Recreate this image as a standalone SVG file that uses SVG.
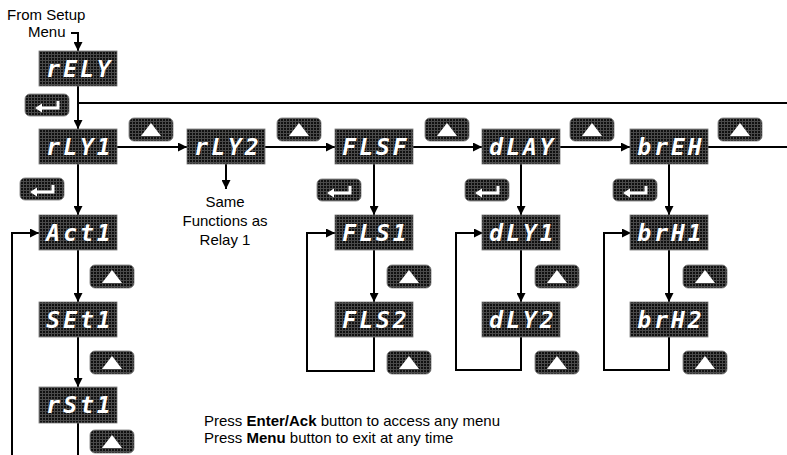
<svg xmlns="http://www.w3.org/2000/svg" width="787" height="455" viewBox="0 0 787 455">
<defs>
<pattern id="grid" width="3" height="3" patternUnits="userSpaceOnUse">
<rect width="3" height="3" fill="#101010"/>
<path d="M0,0.5H3M0.5,0V3" stroke="#4a4a4a" stroke-width="1"/>
</pattern>
<marker id="arr" viewBox="0 0 10 10" refX="10" refY="5" markerWidth="9" markerHeight="9" markerUnits="userSpaceOnUse" orient="auto">
<path d="M0,0L10,5L0,10z" fill="#000"/>
</marker>
<g id="up">
<rect x="0" y="0" width="44" height="23" rx="5" fill="url(#grid)" stroke="#777" stroke-width="0.8"/>
<path d="M22,5L32,18L12,18z" fill="#fff"/>
</g>
<g id="enter">
<rect x="0" y="0" width="44" height="22" rx="5" fill="url(#grid)" stroke="#777" stroke-width="0.8"/>
<path d="M33,7V14H15" fill="none" stroke="#fff" stroke-width="3"/>
<path d="M10,14L17,9.5L17,18.5z" fill="#fff"/>
</g>
</defs>
<style>
.box{fill:url(#grid);stroke:#777;stroke-width:0.8}
.seg{font-family:"DejaVu Sans Mono",monospace;font-weight:bold;font-style:oblique;font-size:23px;fill:#fff;text-anchor:middle;letter-spacing:3px}
.lbl{font-family:"Liberation Sans",Arial,sans-serif;font-size:15px;fill:#000}
.ln{fill:none;stroke:#000;stroke-width:2}
.a{marker-end:url(#arr)}
</style>

<g id="connectors">
<path class="ln a" d="M71,33H78V51"/>
<path class="ln a" d="M78,86V129"/>
<path class="ln" d="M78,103H787"/>
<path class="ln a" d="M78,164V215"/>
<path class="ln a" d="M78,250V302"/>
<path class="ln a" d="M78,337V387"/>
<path class="ln" d="M78,423V455"/>
<path class="ln a" d="M12,455V233H39"/>
<path class="ln a" d="M117,147H187"/>
<path class="ln a" d="M265,147H335"/>
<path class="ln a" d="M413,147H482"/>
<path class="ln a" d="M560,147H630"/>
<path class="ln" d="M708,147H787"/>
<path class="ln a" d="M226,164V189"/>
<path class="ln a" d="M374,164V215"/>
<path class="ln a" d="M374,250V302"/>
<path class="ln a" d="M374,337V371H307V233H335"/>
<path class="ln a" d="M521,164V215"/>
<path class="ln a" d="M521,250V302"/>
<path class="ln a" d="M521,337V370H456V233H483"/>
<path class="ln a" d="M669,164V215"/>
<path class="ln a" d="M669,250V302"/>
<path class="ln a" d="M669,337V370H604V233H631"/>
</g>

<g id="buttons">
<use href="#enter" x="25" y="94"/>
<use href="#enter" x="20" y="178"/>
<use href="#enter" x="317" y="179"/>
<use href="#enter" x="465" y="179"/>
<use href="#enter" x="613" y="179"/>
<use href="#up" x="129" y="118"/>
<use href="#up" x="277" y="118"/>
<use href="#up" x="425" y="118"/>
<use href="#up" x="570" y="118"/>
<use href="#up" x="718" y="118"/>
<use href="#up" x="90" y="265"/>
<use href="#up" x="90" y="351"/>
<use href="#up" x="90" y="430"/>
<use href="#up" x="387" y="265"/>
<use href="#up" x="387" y="351"/>
<use href="#up" x="535" y="265"/>
<use href="#up" x="535" y="351"/>
<use href="#up" x="683" y="265"/>
<use href="#up" x="683" y="351"/>
</g>

<g id="n-rely"><rect class="box" x="39" y="51" width="78" height="35"/><text class="seg" x="80" y="77">rELY</text></g>
<g id="n-rly1"><rect class="box" x="39" y="129" width="78" height="35"/><text class="seg" x="80" y="155">rLY1</text></g>
<g id="n-rly2"><rect class="box" x="187" y="129" width="78" height="35"/><text class="seg" x="228" y="155">rLY2</text></g>
<g id="n-flsf"><rect class="box" x="335" y="129" width="78" height="35"/><text class="seg" x="376" y="155">FLSF</text></g>
<g id="n-dlay"><rect class="box" x="482" y="129" width="78" height="35"/><text class="seg" x="523" y="155">dLAY</text></g>
<g id="n-breh"><rect class="box" x="630" y="129" width="78" height="35"/><text class="seg" x="671" y="155">brEH</text></g>
<g id="n-act1"><rect class="box" x="39" y="215" width="78" height="35"/><text class="seg" x="80" y="241">Act1</text></g>
<g id="n-set1"><rect class="box" x="39" y="302" width="78" height="35"/><text class="seg" x="80" y="328">SEt1</text></g>
<g id="n-rst1"><rect class="box" x="39" y="387" width="78" height="36"/><text class="seg" x="80" y="413">rSt1</text></g>
<g id="n-fls1"><rect class="box" x="335" y="215" width="78" height="35"/><text class="seg" x="376" y="241">FLS1</text></g>
<g id="n-fls2"><rect class="box" x="335" y="302" width="78" height="35"/><text class="seg" x="376" y="328">FLS2</text></g>
<g id="n-dly1"><rect class="box" x="482" y="215" width="78" height="35"/><text class="seg" x="523" y="241">dLY1</text></g>
<g id="n-dly2"><rect class="box" x="482" y="302" width="78" height="35"/><text class="seg" x="523" y="328">dLY2</text></g>
<g id="n-brh1"><rect class="box" x="630" y="215" width="78" height="35"/><text class="seg" x="671" y="241">brH1</text></g>
<g id="n-brh2"><rect class="box" x="630" y="302" width="78" height="35"/><text class="seg" x="671" y="328">brH2</text></g>

<g id="labels">
<text class="lbl" x="7" y="20">From Setup</text>
<text class="lbl" x="28" y="37">Menu</text>
<text class="lbl" x="225" y="207" text-anchor="middle">Same</text>
<text class="lbl" x="225" y="226" text-anchor="middle">Functions as</text>
<text class="lbl" x="225" y="245" text-anchor="middle">Relay 1</text>
<text class="lbl" x="204" y="426">Press <tspan font-weight="bold">Enter/Ack</tspan> button to access any menu</text>
<text class="lbl" x="204" y="443">Press <tspan font-weight="bold">Menu</tspan> button to exit at any time</text>
</g>
</svg>
